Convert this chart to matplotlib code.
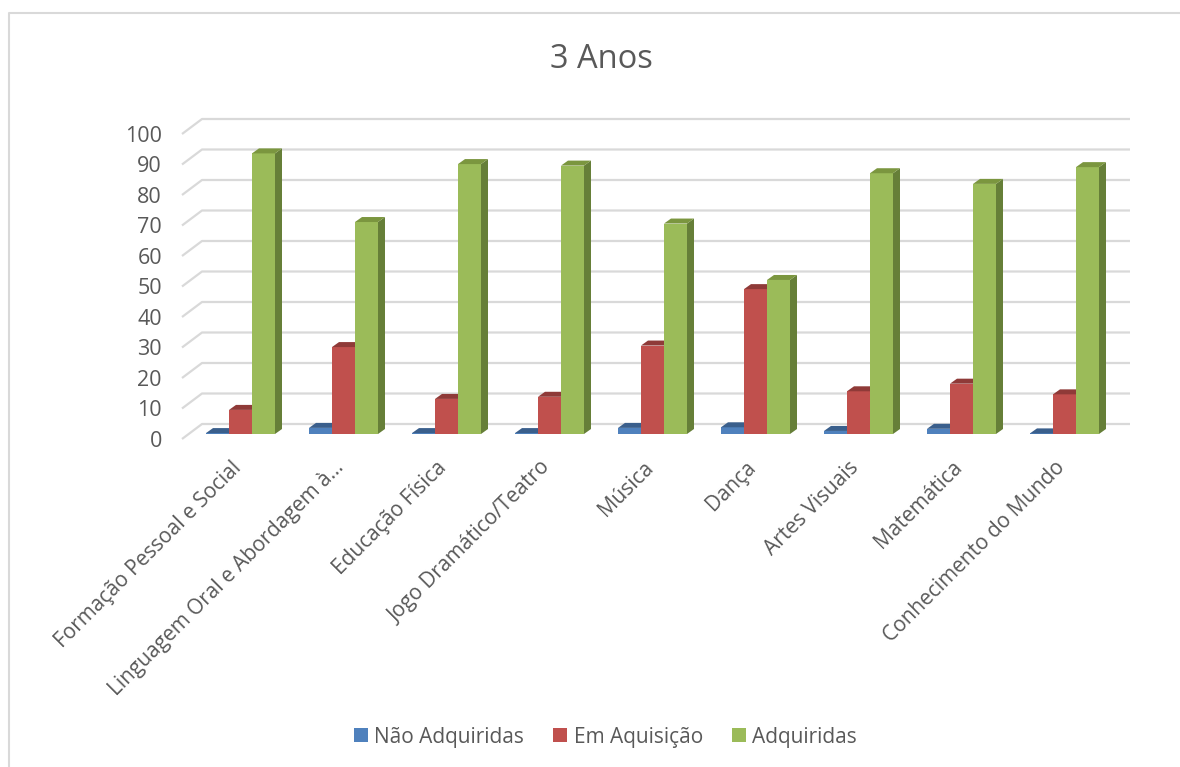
import matplotlib
matplotlib.use("Agg")
import matplotlib.pyplot as plt
from matplotlib.patches import Polygon, Patch

plt.rcParams['font.family'] = ['Open Sans', 'DejaVu Sans']

title = "3 Anos"
categories = ["Formação Pessoal e Social", "Linguagem Oral e Abordagem à…", "Educação Física",
              "Jogo Dramático/Teatro", "Música", "Dança", "Artes Visuais", "Matemática",
              "Conhecimento do Mundo"]
nao_adquiridas = [0.3, 2.0, 0.3, 0.3, 2.0, 2.2, 1.0, 1.7, 0.2]
em_aquisicao = [7.9, 28.5, 11.5, 12.2, 29.0, 47.5, 14.0, 16.5, 13.0]
adquiridas = [92.0, 69.5, 88.5, 88.0, 69.0, 50.5, 85.5, 82.0, 87.5]
y_ticks = [0, 10, 20, 30, 40, 50, 60, 70, 80, 90, 100]

W, H = 1180, 767
X_PER_PX = 1 / 103.0
Y_PER_PX = 1 / 3.05
x0_px, y0_px = 240.5, 434.0
left, right, top, bottom = 182, 1130, 119, 439

fig = plt.figure(figsize=(W / 100, H / 100), dpi=100, facecolor='white')
ax = fig.add_axes([left / W, 1 - bottom / H, (right - left) / W, (bottom - top) / H])
ax.set_xlim((left - x0_px) * X_PER_PX, (right - x0_px) * X_PER_PX)
ax.set_ylim((y0_px - bottom) * Y_PER_PX, (y0_px - top) * Y_PER_PX)
ax.axis('off')

xl, xr = ax.get_xlim()
yb = ax.get_ylim()[0]
wall_dx = 20 * X_PER_PX
wall_dy = 15 * Y_PER_PX
for v in y_ticks:
    ax.plot([xl, xl + wall_dx, xr], [v + yb, v + yb + wall_dy, v + yb + wall_dy],
            color='#D9D9D9', lw=1.6, zorder=1, clip_on=False, solid_capstyle='butt')
    ax.text(xl - 20 * X_PER_PX, v + yb - 0.7, str(v), ha='right', va='center',
            fontsize=15.5, color='#595959')

bar_w = 23 * X_PER_PX
side_dx = 7.0 * X_PER_PX
side_dy = 5.0 * Y_PER_PX
series = [
    (nao_adquiridas, "Não Adquiridas", '#4F81BD', '#3A5F8C', '#34587F', -1),
    (em_aquisicao, "Em Aquisição", '#C0504D', '#8F3A38', '#8A3634', 0),
    (adquiridas, "Adquiridas", '#9BBB59', '#7B963F', '#667F38', 1),
]
z = 3
for i in range(len(categories)):
    for vals, name, face, topc, sidec, off in series:
        x = i + off * bar_w - bar_w / 2
        v = vals[i]
        ax.bar(x, v, width=bar_w, align='edge', color=face, zorder=z, linewidth=0)
        ax.add_patch(Polygon([(x + bar_w, 0), (x + bar_w + side_dx, side_dy),
                              (x + bar_w + side_dx, v + side_dy), (x + bar_w, v)],
                             closed=True, facecolor=sidec, edgecolor='none', zorder=z))
        ax.add_patch(Polygon([(x, v), (x + side_dx, v + side_dy),
                              (x + bar_w + side_dx, v + side_dy), (x + bar_w, v)],
                             closed=True, facecolor=topc, edgecolor='none', zorder=z))
        z += 1

for i, c in enumerate(categories):
    ax.annotate(c, xy=(i, 0), xytext=(-10, -23), textcoords='offset pixels', xycoords='data',
                rotation=45, rotation_mode='anchor', ha='right', va='top',
                fontsize=15, color='#595959', annotation_clip=False)

fig.text(601 / W, 1 - 59 / H, title, ha='center', va='center', fontsize=23.5, color='#595959')

handles = [Patch(facecolor=s[2], label=s[1]) for s in series]
fig.legend(handles=handles, loc='center', bbox_to_anchor=(605.5 / W, 1 - 737 / H), ncol=3, frameon=False,
           fontsize=15, labelcolor='#595959', handlelength=0.67, handleheight=0.67,
           handletextpad=0.3, columnspacing=1.4)

# outer chart frame: only the left and top edges are inside the crop
frame_x = [9, 9, 1180]
frame_y = [767, 13, 13]
fig.add_artist(plt.Line2D([p / W for p in frame_x], [1 - p / H for p in frame_y],
                          color='#D9D9D9', lw=1.5))

fig.savefig('out.png', dpi=100)
